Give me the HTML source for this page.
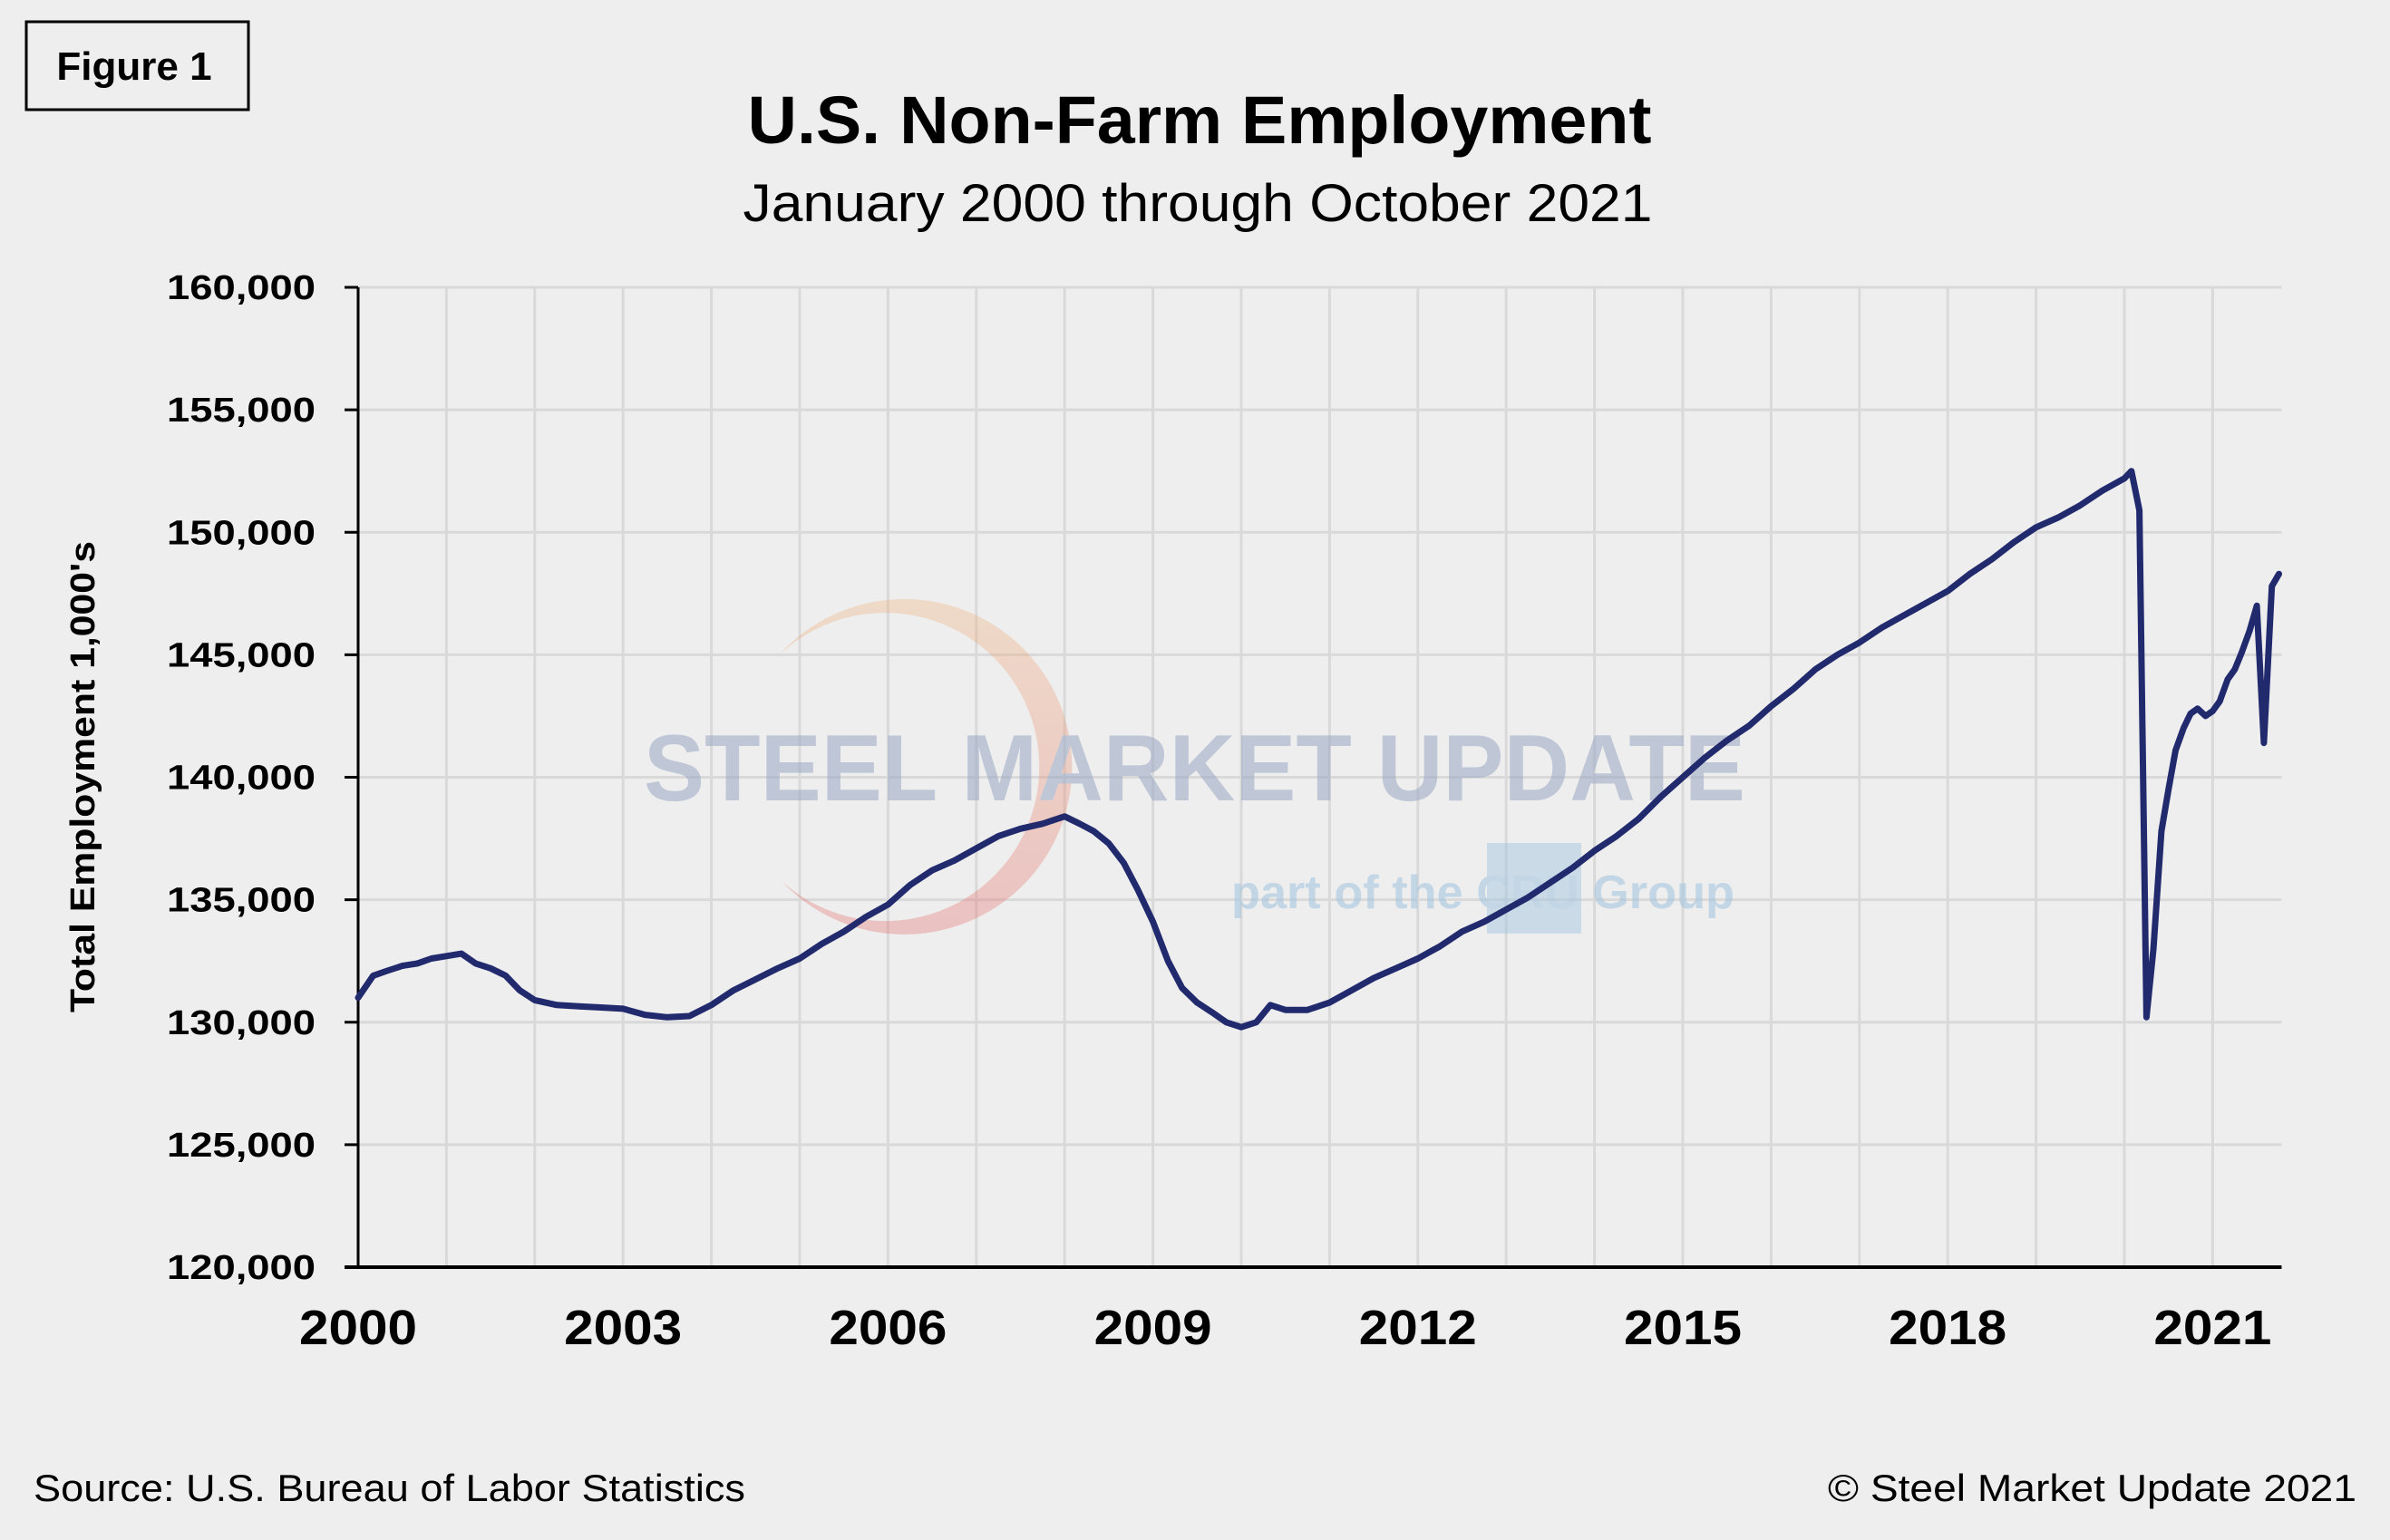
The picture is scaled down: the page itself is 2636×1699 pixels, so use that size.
<!DOCTYPE html>
<html><head><meta charset="utf-8"><style>
html,body{margin:0;padding:0;background:#eeeeee;}
svg{display:block;font-family:"Liberation Sans",sans-serif;}
</style></head><body>
<svg id="chart" width="2636" height="1699" viewBox="0 0 2636 1699">
<rect x="0" y="0" width="2636" height="1699" fill="#eeeeee"/>
<rect x="29" y="24" width="245" height="97" fill="none" stroke="#000" stroke-width="3"/>
<text x="148" y="88" text-anchor="middle" font-size="44" font-weight="bold">Figure 1</text>
<text x="1323" y="158" text-anchor="middle" font-size="74" font-weight="bold" textLength="997" lengthAdjust="spacingAndGlyphs">U.S. Non-Farm Employment</text>
<text x="1321" y="244" text-anchor="middle" font-size="58" textLength="1003" lengthAdjust="spacingAndGlyphs">January 2000 through October 2021</text>
<g id="grid"></g>
<g id="watermark" opacity="0.55">
<defs><linearGradient id="arcg" x1="0" y1="0" x2="0" y2="1"><stop offset="0" stop-color="#f3b27a"/><stop offset="1" stop-color="#e46a6a"/></linearGradient></defs>
<path d="M 860 722 A 185 185 0 1 1 862 972 A 170 170 0 1 0 860 722 Z" fill="url(#arcg)" opacity="0.6"/>
<text x="710" y="883" font-size="104" font-weight="bold" fill="#9aa8c4" textLength="1215" lengthAdjust="spacingAndGlyphs">STEEL MARKET UPDATE</text>
<rect x="1640" y="930" width="104" height="100" fill="#9fc3de" opacity="0.8"/>
<text x="1358" y="1002" font-size="52" font-weight="bold" fill="#9fc3de" textLength="555" lengthAdjust="spacingAndGlyphs">part of the CRU Group</text>
</g>
<g id="axes"></g>
<g id="series"></g>
<text transform="translate(104,857) rotate(-90)" text-anchor="middle" font-size="38" font-weight="bold" textLength="520" lengthAdjust="spacingAndGlyphs">Total Employment 1,000's</text>
<text x="37" y="1656" font-size="42" textLength="785" lengthAdjust="spacingAndGlyphs">Source: U.S. Bureau  of Labor Statistics</text>
<text x="2599" y="1656" text-anchor="end" font-size="42" textLength="583" lengthAdjust="spacingAndGlyphs">© Steel Market Update 2021</text>
</svg>
<script>
const yTicks = [120000,125000,130000,135000,140000,145000,150000,155000,160000];
const xTickYears = [2000,2003,2006,2009,2012,2015,2018,2021];
const dates = [2000.0,2000.17,2000.33,2000.5,2000.67,2000.83,2001.0,2001.17,2001.33,2001.5,2001.67,2001.83,2002.0,2002.25,2002.5,2002.75,2003.0,2003.25,2003.5,2003.75,2004.0,2004.25,2004.5,2004.75,2005.0,2005.25,2005.5,2005.75,2006.0,2006.25,2006.5,2006.75,2007.0,2007.25,2007.5,2007.75,2008.0,2008.17,2008.33,2008.5,2008.67,2008.83,2009.0,2009.17,2009.33,2009.5,2009.67,2009.83,2010.0,2010.17,2010.33,2010.5,2010.75,2011.0,2011.25,2011.5,2011.75,2012.0,2012.25,2012.5,2012.75,2013.0,2013.25,2013.5,2013.75,2014.0,2014.25,2014.5,2014.75,2015.0,2015.25,2015.5,2015.75,2016.0,2016.25,2016.5,2016.75,2017.0,2017.25,2017.5,2017.75,2018.0,2018.25,2018.5,2018.75,2019.0,2019.25,2019.5,2019.75,2020.0,2020.08,2020.17,2020.25,2020.33,2020.42,2020.5,2020.58,2020.67,2020.75,2020.83,2020.92,2021.0,2021.08,2021.17,2021.25,2021.33,2021.42,2021.5,2021.58,2021.67,2021.75];
const employment = [131000,131900,132100,132300,132400,132600,132700,132800,132400,132200,131900,131300,130900,130700,130650,130600,130550,130300,130200,130250,130700,131300,131750,132200,132600,133200,133700,134300,134800,135600,136200,136600,137100,137600,137900,138100,138400,138100,137800,137300,136500,135400,134100,132500,131400,130800,130400,130000,129800,130000,130700,130500,130500,130800,131300,131800,132200,132600,133100,133700,134100,134600,135100,135700,136300,137000,137600,138300,139200,140000,140800,141500,142100,142900,143600,144400,145000,145500,146100,146600,147100,147600,148300,148900,149600,150200,150600,151100,151700,152200,152500,150900,130200,133000,137800,139500,141100,142000,142600,142800,142500,142700,143100,144000,144400,145100,146000,147000,141400,147800,148300];
const X0=395, XPY=97.4, Y0=1398, YTOP=317, VMIN=120000, VMAX=160000;
function xs(d){return X0+(d-2000)*XPY;}
function ys(v){return Y0-(v-VMIN)/(VMAX-VMIN)*(Y0-YTOP);}
const NS="http://www.w3.org/2000/svg";
const grid=document.getElementById('grid'), axes=document.getElementById('axes'), series=document.getElementById('series');
function mk(tag,attrs,parent){const e=document.createElementNS(NS,tag);for(const k in attrs)e.setAttribute(k,attrs[k]);parent.appendChild(e);return e;}
const xEnd=xs(2021.75)+3;
yTicks.forEach(v=>{
  const y=ys(v);
  if(v>VMIN){const l=mk('line',{x1:X0,x2:xEnd,y1:y,y2:y,stroke:'#d9d9d9','stroke-width':3},grid);
  
  }
  const t=mk('line',{x1:X0-15,x2:X0,y1:y,y2:y,stroke:'#000','stroke-width':3},axes);
  
  
  const tx=mk('text',{x:348,y:y+13,'text-anchor':'end','font-size':38,'font-weight':'bold',textLength:164,lengthAdjust:'spacingAndGlyphs'},axes);
  tx.textContent=v.toLocaleString('en-US');
  
  
});
for(let yr=2001;yr<=2021;yr++){
  const x=xs(yr);
  const l=mk('line',{x1:x,x2:x,y1:YTOP,y2:Y0,stroke:'#d9d9d9','stroke-width':3},grid);
  
  
}
xTickYears.forEach(yr=>{
  const tx=mk('text',{x:xs(yr),y:1483,'text-anchor':'middle','font-size':54,'font-weight':'bold',textLength:130,lengthAdjust:'spacingAndGlyphs'},axes);
  tx.textContent=String(yr);
  
  
});
const ya=mk('line',{x1:X0,x2:X0,y1:YTOP,y2:Y0,stroke:'#000','stroke-width':3},axes);


const xa=mk('line',{x1:X0-15,x2:xEnd,y1:Y0,y2:Y0,stroke:'#000','stroke-width':4},axes);


const pts=dates.map((d,i)=>xs(d).toFixed(1)+','+ys(employment[i]).toFixed(1)).join(' ');
const pl=mk('polyline',{points:pts,fill:'none',stroke:'#222a6e','stroke-width':7,'stroke-linejoin':'round','stroke-linecap':'round'},series);


</script>
</body></html>
